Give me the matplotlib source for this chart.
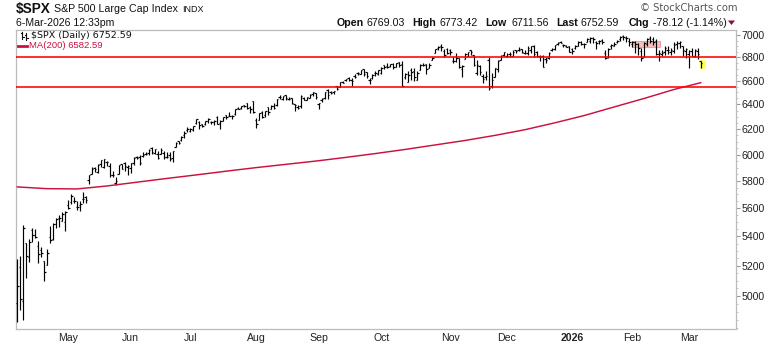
import numpy as np
import pandas as pd
import matplotlib
matplotlib.use("Agg")
import matplotlib.pyplot as plt
from matplotlib.patches import Rectangle, Polygon
from matplotlib.lines import Line2D
from matplotlib.ticker import FixedLocator, NullFormatter

plt.rcParams["font.family"] = ["Liberation Sans", "DejaVu Sans"]

# trading calendar for the daily bars
start_date = "2025-04-07"
end_date = "2026-03-06"
holidays = ["2025-04-18", "2025-05-26", "2025-06-19", "2025-07-04", "2025-09-01",
            "2025-11-27", "2025-12-25", "2026-01-01", "2026-01-19", "2026-02-16"]

# daily OHLC, one line per month (Apr 2025 .. Mar 2026)
opens = [
    4953, 5193, 4966, 5353, 5255, 5441, 5412, 5335, 5306, 5232, 5207, 5395, 5381, 5489, 5529, 5508, 5500,
    5626, 5646, 5655, 5605, 5619, 5665, 5680, 5807, 5854, 5896, 5869, 5929, 5902, 5944, 5910, 5841, 5781, 5855, 5925, 5939, 5903,
    5897, 5939, 5979, 5985, 5987, 6005, 6010, 6050, 6010, 6001, 6005, 6013, 5985, 5999, 5970, 6062, 6105, 6112, 6151, 6194,
    6187, 6197, 6246, 6259, 6239, 6241, 6265, 6256, 6255, 6296, 6250, 6264, 6313, 6304, 6306, 6326, 6368, 6371, 6398, 6409, 6380, 6427,
    6271, 6271, 6337, 6310, 6380, 6360, 6390, 6398, 6461, 6448, 6478, 6445, 6450, 6404, 6383, 6386, 6457, 6440, 6457, 6488, 6497,
    6401, 6435, 6458, 6523, 6502, 6503, 6553, 6550, 6589, 6603, 6624, 6607, 6641, 6661, 6659, 6696, 6670, 6605, 6623, 6661, 6658,
    6665, 6732, 6722, 6729, 6743, 6720, 6758, 6744, 6628, 6592, 6690, 6686, 6609, 6689, 6736, 6743, 6704, 6775, 6841, 6885, 6900, 6858, 6879,
    6868, 6766, 6768, 6792, 6701, 6788, 6809, 6866, 6818, 6667, 6722, 6642, 6631, 6777, 6552, 6634, 6703, 6780, 6822,
    6812, 6830, 6815, 6867, 6867, 6874, 6841, 6841, 6865, 6903, 6852, 6811, 6815, 6787, 6797, 6863, 6875, 6915, 6935, 6911, 6904, 6898,
    6878, 6880, 6905, 6940, 6915, 6940, 6945, 6975, 6935, 6950, 6955, 6835, 6800, 6900, 6905, 6935, 6960, 6990, 6975, 6950,
    6920, 6935, 6915, 6860, 6805, 6920, 6970, 6960, 6950, 6830, 6830, 6850, 6865, 6850, 6860, 6915, 6930, 6900, 6860,
    6830, 6855, 6815, 6860, 6769.03,
]
highs = [
    5246, 5267, 5481, 5353, 5381, 5460, 5450, 5368, 5328, 5232, 5310, 5470, 5490, 5528, 5554, 5574, 5581,
    5658, 5700, 5683, 5649, 5655, 5721, 5691, 5845, 5906, 5907, 5925, 5958, 5968, 5954, 5939, 5878, 5829, 5922, 5930, 5943, 5923,
    5938, 5981, 5991, 5999, 6017, 6022, 6044, 6060, 6045, 6027, 6051, 6024, 6018, 6019, 6025, 6101, 6108, 6146, 6187, 6215,
    6211, 6227, 6284, 6262, 6243, 6269, 6290, 6269, 6272, 6302, 6271, 6301, 6316, 6336, 6316, 6360, 6381, 6390, 6398, 6409, 6390, 6428,
    6288, 6330, 6347, 6349, 6382, 6396, 6410, 6446, 6481, 6474, 6481, 6459, 6456, 6404, 6393, 6479, 6466, 6466, 6487, 6508, 6497,
    6416, 6455, 6502, 6533, 6511, 6513, 6555, 6592, 6601, 6616, 6627, 6624, 6657, 6672, 6694, 6697, 6676, 6623, 6653, 6680, 6689,
    6718, 6733, 6750, 6744, 6749, 6755, 6762, 6765, 6665, 6684, 6708, 6711, 6685, 6744, 6752, 6744, 6748, 6807, 6876, 6902, 6920, 6871, 6887,
    6879, 6803, 6839, 6799, 6738, 6841, 6851, 6870, 6823, 6775, 6737, 6654, 6683, 6806, 6664, 6712, 6776, 6825, 6850,
    6843, 6851, 6862, 6867, 6895, 6876, 6864, 6899, 6903, 6907, 6855, 6818, 6819, 6808, 6845, 6882, 6910, 6937, 6946, 6920, 6911, 6902,
    6884, 6913, 6943, 6950, 6928, 6975, 6980, 6986, 6943, 6958, 6967, 6869, 6885, 6919, 6937, 6958, 6988, 7002, 6988, 6973,
    6945, 6943, 6928, 6884, 6940, 6973, 6988, 6980, 6960, 6869, 6869, 6898, 6898, 6884, 6937, 6943, 6946, 6898, 6884,
    6869, 6884, 6878, 6880, 6773.42,
]
lows = [
    4835, 4910, 4849, 5116, 5221, 5358, 5387, 5220, 5255, 5101, 5207, 5356, 5371, 5455, 5468, 5505, 5434,
    5597, 5631, 5640, 5588, 5578, 5635, 5640, 5775, 5853, 5867, 5858, 5908, 5895, 5911, 5830, 5826, 5767, 5854, 5886, 5875, 5845,
    5862, 5921, 5967, 5921, 5979, 5994, 6000, 6002, 6004, 5964, 6005, 5968, 5971, 5953, 5943, 6058, 6081, 6107, 6132, 6181,
    6177, 6187, 6240, 6201, 6215, 6235, 6251, 6245, 6237, 6242, 6202, 6262, 6285, 6303, 6281, 6317, 6361, 6365, 6379, 6363, 6332, 6327,
    6212, 6271, 6289, 6301, 6318, 6360, 6361, 6385, 6447, 6441, 6441, 6437, 6401, 6343, 6360, 6375, 6438, 6438, 6452, 6467, 6444,
    6361, 6419, 6446, 6444, 6485, 6491, 6522, 6545, 6578, 6598, 6598, 6551, 6620, 6644, 6659, 6642, 6621, 6570, 6615, 6640, 6648,
    6656, 6699, 6706, 6713, 6700, 6718, 6719, 6551, 6611, 6590, 6603, 6599, 6603, 6689, 6723, 6654, 6704, 6774, 6838, 6870, 6856, 6808, 6827,
    6818, 6754, 6758, 6708, 6631, 6788, 6802, 6822, 6724, 6646, 6650, 6581, 6607, 6521, 6539, 6634, 6674, 6780, 6816,
    6800, 6808, 6810, 6837, 6858, 6835, 6832, 6826, 6841, 6801, 6804, 6769, 6720, 6755, 6790, 6857, 6868, 6911, 6924, 6892, 6894, 6845,
    6831, 6877, 6898, 6906, 6884, 6935, 6928, 6930, 6878, 6920, 6920, 6790, 6795, 6878, 6898, 6928, 6950, 6958, 6937, 6898,
    6890, 6839, 6825, 6772, 6800, 6898, 6928, 6913, 6825, 6772, 6810, 6825, 6830, 6825, 6839, 6878, 6884, 6810, 6796,
    6708, 6810, 6800, 6790, 6711.56,
]
closes = [
    5062, 4982, 5457, 5268, 5363, 5406, 5397, 5276, 5283, 5158, 5288, 5376, 5485, 5525, 5529, 5561, 5569,
    5604, 5687, 5650, 5607, 5631, 5664, 5660, 5844, 5886, 5892, 5917, 5958, 5963, 5940, 5845, 5842, 5802, 5922, 5889, 5912, 5912,
    5936, 5970, 5971, 5939, 6000, 6006, 6038, 6022, 6045, 5977, 6033, 5982, 5981, 5967, 6025, 6092, 6092, 6141, 6173, 6205,
    6198, 6227, 6279, 6230, 6226, 6263, 6280, 6259, 6269, 6244, 6264, 6297, 6297, 6305, 6309, 6359, 6363, 6389, 6390, 6371, 6362, 6339,
    6238, 6330, 6299, 6345, 6340, 6389, 6374, 6446, 6466, 6469, 6450, 6449, 6411, 6396, 6370, 6467, 6440, 6466, 6481, 6502, 6460,
    6416, 6448, 6502, 6482, 6495, 6512, 6532, 6587, 6584, 6615, 6606, 6600, 6631, 6664, 6693, 6656, 6638, 6605, 6644, 6661, 6688,
    6711, 6715, 6716, 6740, 6714, 6753, 6735, 6553, 6655, 6644, 6671, 6630, 6664, 6735, 6735, 6699, 6738, 6792, 6875, 6891, 6890, 6822, 6840,
    6852, 6771, 6796, 6720, 6728, 6832, 6846, 6850, 6737, 6734, 6672, 6617, 6642, 6538, 6603, 6705, 6766, 6813, 6849,
    6813, 6829, 6850, 6857, 6870, 6846, 6840, 6887, 6901, 6827, 6816, 6800, 6721, 6775, 6835, 6878, 6910, 6932, 6930, 6906, 6896, 6845,
    6858, 6902, 6940, 6921, 6921, 6966, 6977, 6964, 6926, 6944, 6940, 6797, 6876, 6913, 6916, 6950, 6979, 6978, 6969, 6939,
    6935, 6918, 6883, 6798, 6932, 6965, 6942, 6941, 6833, 6836, 6843, 6881, 6862, 6870, 6910, 6925, 6940, 6870, 6879,
    6861, 6817, 6869, 6830.71, 6752.59,
]

# 200-day moving average, sampled every 10 sessions
ma_index = [0, 10, 20, 30, 40, 50, 60, 70, 80, 90, 100, 110, 120,
            130, 140, 150, 160, 170, 180, 190, 200, 210, 220, 229]
ma_values = [5755, 5742, 5740, 5762, 5790, 5818, 5845, 5873, 5900, 5925, 5950, 5978, 6008,
             6040, 6075, 6110, 6150, 6195, 6250, 6310, 6380, 6450, 6525, 6582.59]

# horizontal reference levels
levels = [6800, 6550]

y_ticks = list(range(5000, 7001, 200))

days = pd.bdate_range(start_date, end_date)
days = days[~days.isin(pd.to_datetime(holidays))]
n = len(days)
assert n == len(opens) == len(highs) == len(lows) == len(closes)
x = np.arange(n)

W, H = 780, 345
fig = plt.figure(figsize=(W / 100, H / 100), dpi=100)
ax = fig.add_axes([16 / W, 1 - 329 / H, (736 - 16) / W, (329 - 30) / H])


def px(xp, yp):
    return xp / W, 1 - yp / H


# price bars
ax.vlines(x, lows, highs, color="black", lw=0.85, zorder=3)
ax.hlines(opens, x - 0.5, x, color="black", lw=0.85, zorder=3)
ax.hlines(closes, x, x + 0.5, color="black", lw=0.85, zorder=3)

# highlight on the latest bar
ax.add_patch(Rectangle((228.7, 6697), 1.9, 84, facecolor="#ffff66", edgecolor="none", zorder=2))
# shaded box in early February
ax.add_patch(Rectangle((205.8, 6893), 9.5, 51, facecolor="#f6c0c0", edgecolor="#eea0a0",
                       lw=0.8, zorder=2))

ax.plot(ma_index, ma_values, color="#cc1040", lw=1.05, zorder=4)
for lv in levels:
    ax.axhline(lv, color="#ff0000", lw=1.15, zorder=4)

ax.set_yscale("log")
ax.set_xlim(-0.45, 240.8)
ax.set_ylim(4792, 7045)

ax.yaxis.tick_right()
ax.yaxis.set_major_locator(FixedLocator(y_ticks))
ax.set_yticklabels([str(v) for v in y_ticks])
ax.yaxis.set_minor_locator(FixedLocator(list(range(4800, 7050, 50))))
ax.yaxis.set_minor_formatter(NullFormatter())
ax.tick_params(axis="y", which="major", direction="out", length=3, width=0.8,
               color="#999999", labelsize=7.6, pad=1, labelcolor="#222222")
ax.tick_params(axis="y", which="minor", direction="out", length=1.5, width=0.6, color="#bbbbbb")

# month labels at the first session of each month
month_first = pd.Series(x, index=days).groupby([days.year, days.month]).first()
month_pos, month_lab = [], []
for (yr, mo), pos in month_first.items():
    if pos == 0:
        continue
    month_pos.append(pos)
    month_lab.append(str(yr) if mo == 1 else days[pos].strftime("%b"))
ax.set_xticks(month_pos)
ax.set_xticklabels(month_lab)
ax.tick_params(axis="x", length=0, labelsize=7.6, pad=3, labelcolor="#222222")
for t in ax.get_xticklabels():
    if t.get_text() == "2026":
        t.set_fontweight("bold")

for s in ax.spines.values():
    s.set_color("#bbbbbb")
    s.set_linewidth(0.9)

# header
fig.text(*px(16, 9), "$SPX", fontsize=9.8, fontweight="bold", va="center", color="#111111")
fig.text(*px(54, 9), "S&P 500 Large Cap Index", fontsize=7.7, va="center", color="#111111")
fig.text(*px(182, 9), "INDX", fontsize=6.5, va="center", color="#111111")
fig.text(*px(16, 23), "6-Mar-2026 12:33pm", fontsize=7.6, va="center", color="#111111")
fig.text(*px(737, 8), "\u00a9 StockCharts.com", fontsize=7.2, va="center", ha="right", color="#555555",
         family=["DejaVu Sans"])

quote = [(337, "Open", True), (366.5, "6769.03", False),
         (412.5, "High", True), (439, "6773.42", False),
         (485, "Low", True), (511, "6711.56", False),
         (556.5, "Last", True), (580.5, "6752.59", False),
         (629, "Chg", True), (653, "-78.12 (-1.14%)", False)]
for xp, txt, bold in quote:
    fig.text(*px(xp, 23), txt, fontsize=7.7, va="center", color="#111111",
             fontweight="bold" if bold else "normal")
tri = [px(728, 20.5), px(735, 20.5), px(731.5, 25)]
fig.patches.append(Polygon(tri, closed=True, transform=fig.transFigure, facecolor="#8b1030",
                           edgecolor="none"))

# legend inside the chart
fig.text(*px(31, 35.5), "$SPX (Daily) 6752.59", fontsize=6.8, va="center", color="#111111",
         family=["DejaVu Sans"])
for xp, y0, y1, o, c in [(22, 32, 39, 33, 37), (26.5, 33, 39.5, 35, 38)]:
    fig.lines.append(Line2D([xp / W, xp / W], [1 - y0 / H, 1 - y1 / H], transform=fig.transFigure,
                            color="#111111", lw=0.8))
    fig.lines.append(Line2D([(xp - 1.5) / W, xp / W], [1 - o / H, 1 - o / H], transform=fig.transFigure,
                            color="#111111", lw=0.8))
    fig.lines.append(Line2D([xp / W, (xp + 1.5) / W], [1 - c / H, 1 - c / H], transform=fig.transFigure,
                            color="#111111", lw=0.8))
fig.lines.append(Line2D([18 / W, 27 / W], [1 - 46 / H, 1 - 46 / H], transform=fig.transFigure,
                        color="#cc1040", lw=2.0))
fig.text(*px(29, 46), "MA(200) 6582.59", fontsize=6.8, va="center", color="#cc1040")

fig.savefig("out.png", dpi=100)
